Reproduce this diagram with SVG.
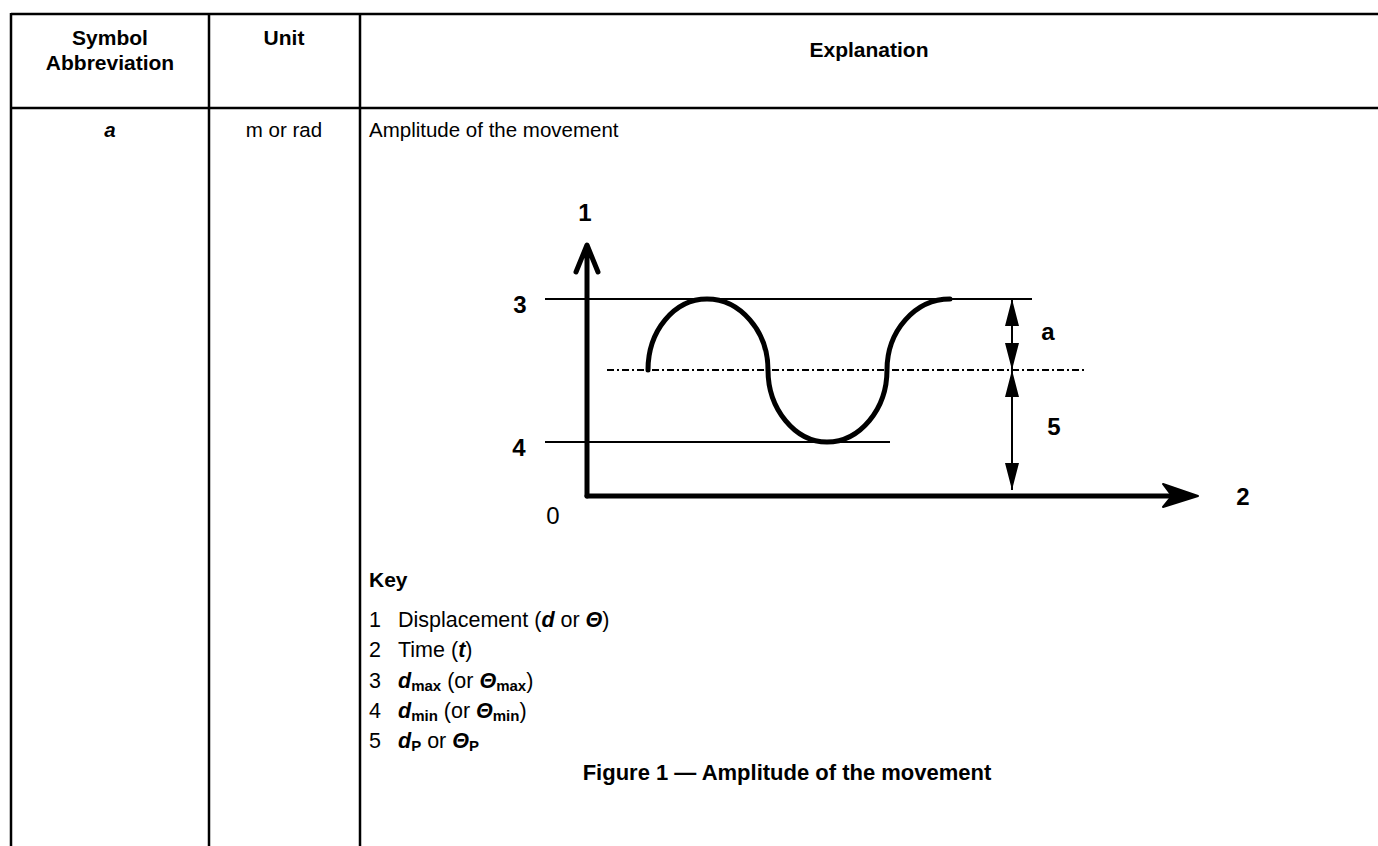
<svg xmlns="http://www.w3.org/2000/svg" width="1378" height="846" viewBox="0 0 1378 846">
<style>
.grid{stroke:#000;stroke-width:2.5;fill:none}
.t{font-family:"Liberation Sans",Arial,sans-serif;fill:#000}
.hb{font-size:21px;font-weight:bold}
.bd{font-size:20.5px}
.k{font-size:21.5px}
.lbl{font-family:"Liberation Sans",Arial,sans-serif;font-size:24px;font-weight:bold;fill:#000}
.thin{stroke:#000;stroke-width:2;fill:none}
.thick{stroke:#000;stroke-width:5;fill:none;stroke-linecap:round;stroke-linejoin:round}
.bi{font-weight:bold;font-style:italic}
.sub{font-weight:bold;font-size:15px}
</style>
<rect width="1378" height="846" fill="#fff"/>
<g id="table">
<line class="grid" x1="11" y1="14" x2="1378" y2="14"/>
<line class="grid" x1="11" y1="108" x2="1378" y2="108"/>
<line class="grid" x1="11" y1="13" x2="11" y2="846"/>
<line class="grid" x1="209" y1="13" x2="209" y2="846"/>
<line class="grid" x1="360" y1="13" x2="360" y2="846"/>
</g>
<g id="header">
<text class="t hb" x="110" y="45" text-anchor="middle">Symbol</text>
<text class="t hb" x="110" y="70" text-anchor="middle">Abbreviation</text>
<text class="t hb" x="284" y="45" text-anchor="middle">Unit</text>
<text class="t hb" x="869" y="57" text-anchor="middle">Explanation</text>
</g>
<g id="row">
<text class="t bd bi" x="110" y="137" text-anchor="middle">a</text>
<text class="t bd" x="284" y="137" text-anchor="middle">m or rad</text>
<text class="t bd" x="369" y="137">Amplitude of the movement</text>
</g>
<g id="graph">
<line class="thin" x1="545" y1="299" x2="1032" y2="299"/>
<line class="thin" x1="545" y1="442" x2="890" y2="442"/>
<line class="thin" x1="607" y1="370" x2="1087" y2="370" stroke-dasharray="7 3 2 3"/>
<path class="thick" d="M587,496 L587,246 M576,272 L587,245 L598,272"/>
<path class="thick" d="M587,496 L1190,496"/>
<path d="M1163,484 L1198,496 L1163,507 L1172,496 Z" fill="#000" stroke="#000" stroke-width="2" stroke-linejoin="round"/>
<path class="thick" d="M648,370 C648,331 674,299 707,299 C740,299 768,331 768,370 C768,409 795,442 827,442 C860,442 887,409 887,370 C887,331 915,299 950,299" stroke-linecap="butt"/>
<line class="thin" x1="1012" y1="299" x2="1012" y2="490"/>
<path d="M1012,299 L1019,326 L1005,326 Z M1012,370 L1019,343 L1005,343 Z M1012,370 L1019,397 L1005,397 Z M1012,490 L1019,463 L1005,463 Z" fill="#000"/>
<text class="lbl" x="585" y="221" text-anchor="middle">1</text>
<text class="lbl" x="520" y="313" text-anchor="middle">3</text>
<text class="lbl" x="519" y="456" text-anchor="middle">4</text>
<text class="lbl" x="1048" y="340" text-anchor="middle">a</text>
<text class="lbl" x="1054" y="435" text-anchor="middle">5</text>
<text class="lbl" x="1243" y="505" text-anchor="middle">2</text>
<text class="t" x="553" y="524" text-anchor="middle" font-size="24">0</text>
</g>
<g id="key">
<text class="t hb" x="369" y="587">Key</text>
<text class="t k" x="369" y="627">1</text>
<text class="t k" x="398" y="627">Displacement (<tspan class="bi">d</tspan> or <tspan class="bi">Θ</tspan>)</text>
<text class="t k" x="369" y="657">2</text>
<text class="t k" x="398" y="657">Time (<tspan class="bi">t</tspan>)</text>
<text class="t k" x="369" y="688">3</text>
<text class="t k" x="398" y="688"><tspan class="bi">d</tspan><tspan class="sub" dy="3">max</tspan><tspan dy="-3"> (or </tspan><tspan class="bi">Θ</tspan><tspan class="sub" dy="3">max</tspan><tspan dy="-3">)</tspan></text>
<text class="t k" x="369" y="718">4</text>
<text class="t k" x="398" y="718"><tspan class="bi">d</tspan><tspan class="sub" dy="3">min</tspan><tspan dy="-3"> (or </tspan><tspan class="bi">Θ</tspan><tspan class="sub" dy="3">min</tspan><tspan dy="-3">)</tspan></text>
<text class="t k" x="369" y="748">5</text>
<text class="t k" x="398" y="748"><tspan class="bi">d</tspan><tspan class="sub" dy="3">P</tspan><tspan dy="-3"> or </tspan><tspan class="bi">Θ</tspan><tspan class="sub" dy="3">P</tspan></text>
<text class="t" x="787" y="780" text-anchor="middle" font-size="22" font-weight="bold">Figure 1 — Amplitude of the movement</text>
</g>
</svg>
